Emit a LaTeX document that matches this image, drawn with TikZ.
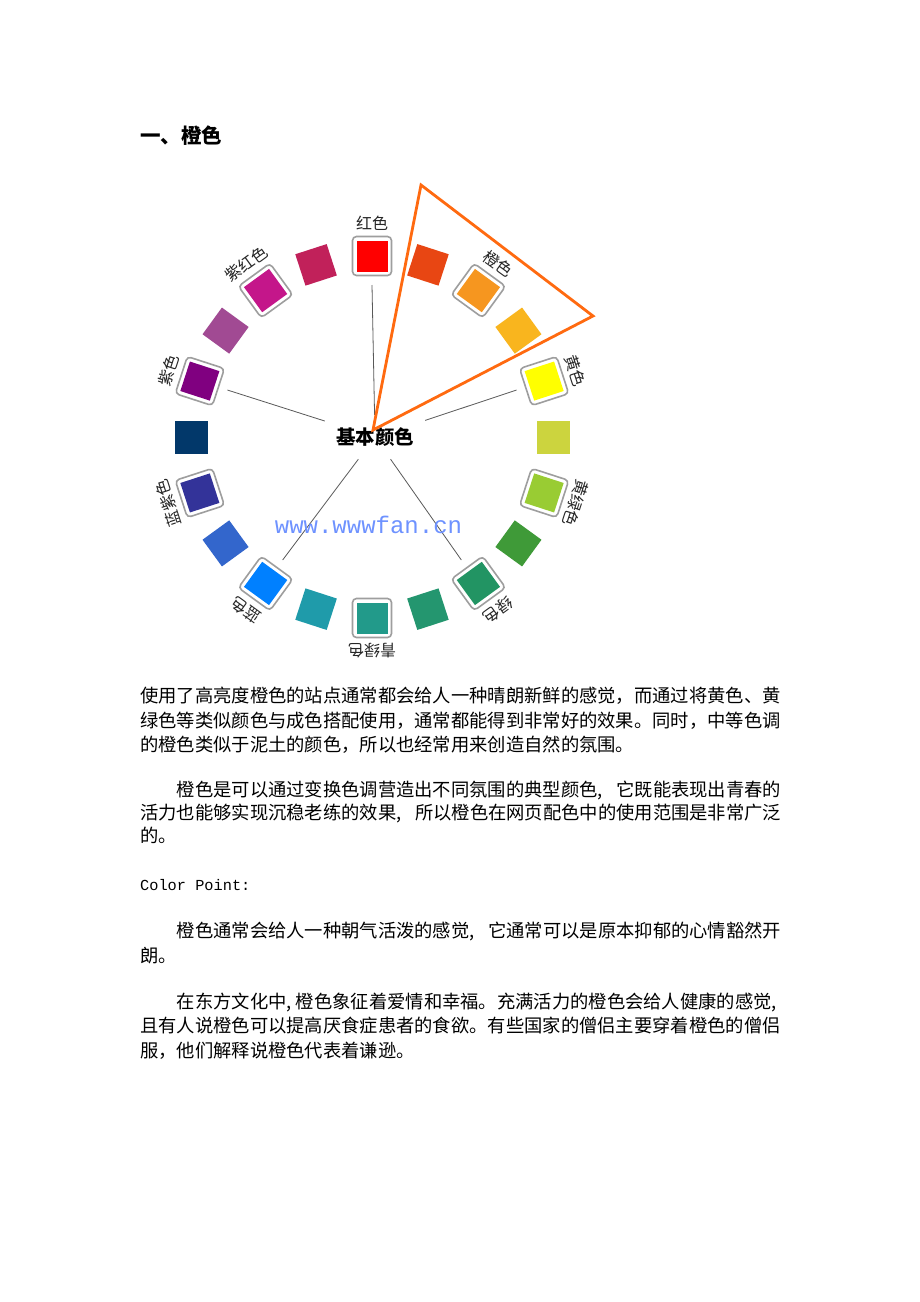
\documentclass[tikz,border=0pt]{standalone}
\usepackage{fontspec}
\setmainfont{Liberation Serif}
\newfontfamily\cjk{Noto Sans CJK SC}
\newfontfamily\monof{Liberation Mono}
\definecolor{c90}{HTML}{FF0000}
\definecolor{c108}{HTML}{C1215A}
\definecolor{c126}{HTML}{C4168A}
\definecolor{c144}{HTML}{A14A93}
\definecolor{c162}{HTML}{800080}
\definecolor{c180}{HTML}{02386A}
\definecolor{c198}{HTML}{333399}
\definecolor{c216}{HTML}{3366CC}
\definecolor{c234}{HTML}{0080FF}
\definecolor{c252}{HTML}{1F9BAA}
\definecolor{c270}{HTML}{229A8A}
\definecolor{c288}{HTML}{24966F}
\definecolor{c306}{HTML}{229463}
\definecolor{c324}{HTML}{3F9A38}
\definecolor{c342}{HTML}{99CC33}
\definecolor{c0}{HTML}{CCD43E}
\definecolor{c18}{HTML}{FFFF00}
\definecolor{c36}{HTML}{F9B51E}
\definecolor{c54}{HTML}{F6961F}
\definecolor{c72}{HTML}{E84613}
\definecolor{triorange}{HTML}{FF6A10}
\definecolor{wmblue}{HTML}{6E92FF}
\begin{document}
\begin{tikzpicture}[x=1pt,y=1pt,
  body/.style={anchor=base west, inner sep=0pt, font=\cjk\fontsize{18.3}{22}\selectfont, text=black},
  swatch/.style={minimum size=33pt, inner sep=0pt, draw=none, fill=#1},
  framebox/.style={minimum size=39pt, inner sep=0pt, draw=black!38, line width=1.6pt, rounded corners=4pt, fill=white},
  innersq/.style={minimum size=31pt, inner sep=0pt, draw=none, fill=#1},
  lab/.style={font=\cjk\fontsize{16}{16}\selectfont, inner sep=0pt, text=black!85},
  spoke/.style={draw=black!65, line width=0.8pt},
  tri/.style={draw=triorange, line width=2.8pt, line join=miter}
]
\useasboundingbox[fill=white] (0,0) rectangle (920,-1302);

% heading
\node[anchor=base west, inner sep=0pt, font=\cjk\bfseries\fontsize{20.5}{24}\selectfont] (head) at (140,-143) {一、橙色};

% colour wheel
\begin{scope}[shift={(372,-437)}]
  \foreach \a in {108,144,180,216,252,288,324,0,36,72}
    \node[swatch=c\a, rotate=\a-90] (s\a) at (\a:181) {};
  \foreach \a/\t in {90/红色,126/紫红色,162/紫色,198/蓝紫色,234/蓝色,270/青绿色,306/绿色,342/黄绿色,18/黄色,54/橙色}{
    \node[framebox, rotate=\a-90] (f\a) at (\a:181) {};
    \node[innersq=c\a, rotate=\a-90] (s\a) at (\a:181) {};
    \node[lab, rotate=\a-90] (t\a) at (\a:214) {\t};
  }
  \node[minimum width=100pt, minimum height=44pt, inner sep=0pt,
        font=\cjk\bfseries\fontsize{19.5}{20}\selectfont] (lbl) at (3,0) {基本颜色};
  \foreach \a in {90,162,18,234,306}{
    \coordinate (e\a) at (\a:152);
    \draw[spoke] (lbl) -- (e\a);
  }
  \coordinate (ta) at (1,7);
  \coordinate (tb) at (49,252);
  \coordinate (tc) at (221,121);
  \draw[tri] (ta) -- (tb) -- (tc) -- cycle;
  \node[font=\monof\fontsize{24}{24}\selectfont, text=wmblue, inner sep=0pt] (wm) at (-3.5,-88) {www.wwwfan.cn};
\end{scope}

% body text
\node[body] (p1a) at (140,-702) {\hbox to 641pt{使用了高亮度橙色的站点通常都会给人一种晴朗新鲜的感觉，而通过将黄色、黄}};
\node[body] (p1b) at (140,-727) {\hbox to 641pt{绿色等类似颜色与成色搭配使用，通常都能得到非常好的效果。同时，中等色调}};
\node[body] (p1c) at (140,-751) {的橙色类似于泥土的颜色，所以也经常用来创造自然的氛围。};

\node[body] (p2a) at (140,-796) {\hbox to 641pt{\hspace*{36.6pt}橙色是可以通过变换色调营造出不同氛围的典型颜色,\hfill 它既能表现出青春的}};
\node[body] (p2b) at (140,-819) {\hbox to 641pt{活力也能够实现沉稳老练的效果,\hfill 所以橙色在网页配色中的使用范围是非常广泛}};
\node[body] (p2c) at (140,-842) {的。};

\node[anchor=base west, inner sep=0pt, font=\monof\fontsize{15.3}{18}\selectfont] (cp) at (140,-890) {Color Point:};

\node[body] (p3a) at (140,-937) {\hbox to 641pt{\hspace*{36.6pt}橙色通常会给人一种朝气活泼的感觉,\hfill 它通常可以是原本抑郁的心情豁然开}};
\node[body] (p3b) at (140,-962) {朗。};

\node[body] (p4a) at (140,-1008) {\hbox to 641pt{\hspace*{36.6pt}在东方文化中,\hfil 橙色象征着爱情和幸福。充满活力的橙色会给人健康的感觉,\hfil}};
\node[body] (p4b) at (140,-1032) {\hbox to 641pt{且有人说橙色可以提高厌食症患者的食欲。有些国家的僧侣主要穿着橙色的僧侣}};
\node[body] (p4c) at (140,-1057) {服，他们解释说橙色代表着谦逊。};
\end{tikzpicture}
\end{document}
